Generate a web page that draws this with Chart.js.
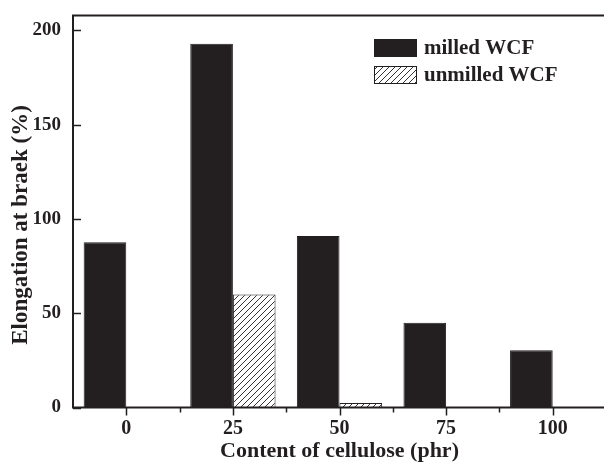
<!DOCTYPE html>
<html>
<head>
<meta charset="utf-8">
<script src="https://cdn.jsdelivr.net/npm/chart.js@4/dist/chart.umd.min.js"></script>
<style>
html,body{margin:0;padding:0;background:#fff;overflow:hidden;}
#wrap{width:610px;height:464px;}
</style>
</head>
<body>
<div id="wrap"><canvas id="c" width="610" height="464"></canvas></div>
<script>
const categories = ['0', '25', '50', '75', '100'];
const milledWCF = [87.7, 193, 91, 45, 30.4];
const unmilledWCF = [0, 60, 2.4, 0, 0];
const yTickValues = [0, 50, 100, 150, 200];
const seriesNames = ['milled WCF', 'unmilled WCF'];
const xTitle = 'Content of cellulose (phr)';
const yTitle = 'Elongation at braek (%)';

const INK = '#231f20';
const FONT = 'Liberation Serif';

function hatchPattern() {
  const s = 6;
  const cv = document.createElement('canvas');
  cv.width = s; cv.height = s;
  const g = cv.getContext('2d');
  g.fillStyle = '#fff';
  g.fillRect(0, 0, s, s);
  g.strokeStyle = '#333';
  g.lineWidth = 1;
  g.beginPath();
  g.moveTo(0, s); g.lineTo(s, 0);
  g.moveTo(-1, 1); g.lineTo(1, -1);
  g.moveTo(s - 1, s + 1); g.lineTo(s + 1, s - 1);
  g.stroke();
  return g.createPattern(cv, 'repeat');
}
const hatch = hatchPattern();

const decor = {
  id: 'decor',
  afterDraw(chart) {
    const ctx = chart.ctx;
    const a = chart.chartArea;
    const xs = chart.scales.x, ys = chart.scales.y;
    ctx.save();
    ctx.strokeStyle = INK;
    // frame
    ctx.lineWidth = 2;
    ctx.beginPath();
    ctx.moveTo(a.left, a.top); ctx.lineTo(a.right, a.top);
    ctx.lineTo(a.right, a.bottom); ctx.lineTo(a.left, a.bottom); ctx.closePath();
    ctx.stroke();
    // y ticks inward
    ctx.lineWidth = 1.5;
    yTickValues.forEach(v => {
      const py = Math.round(ys.getPixelForValue(v)) + 0.5;
      ctx.beginPath(); ctx.moveTo(a.left, py); ctx.lineTo(a.left + 8, py); ctx.stroke();
    });
    // x ticks outward (major at centers, minor at boundaries)
    const step = xs.getPixelForValue(1) - xs.getPixelForValue(0);
    categories.forEach((c, i) => {
      const px = Math.round(xs.getPixelForValue(i)) + 0.5;
      ctx.beginPath(); ctx.moveTo(px, a.bottom); ctx.lineTo(px, a.bottom + 8); ctx.stroke();
      const mx = Math.round(xs.getPixelForValue(i) + step / 2) + 0.5;
      ctx.beginPath(); ctx.moveTo(mx, a.bottom); ctx.lineTo(mx, a.bottom + 5); ctx.stroke();
    });
    // y axis title
    ctx.save();
    ctx.translate(21, 225);
    ctx.rotate(-Math.PI / 2);
    ctx.fillStyle = INK;
    ctx.font = 'bold 23px "' + FONT + '"';
    ctx.textAlign = 'center';
    ctx.textBaseline = 'middle';
    ctx.fillText(yTitle, 0, 0);
    ctx.restore();
    // legend
    const lx = 374, ly = [39, 66], bw = 43, bh = 18;
    chart.data.datasets.forEach((ds, i) => {
      ctx.fillStyle = ds.backgroundColor;
      ctx.fillRect(lx, ly[i], bw, bh);
      ctx.lineWidth = 1;
      ctx.strokeStyle = INK;
      ctx.strokeRect(lx + 0.5, ly[i] + 0.5, bw - 1, bh - 1);
      ctx.fillStyle = INK;
      ctx.font = 'bold 21px "' + FONT + '"';
      ctx.textBaseline = 'middle';
      ctx.textAlign = 'left';
      ctx.fillText(ds.label, lx + bw + 7, ly[i] + bh / 2 + 1);
    });
    ctx.restore();
  }
};

new Chart(document.getElementById('c'), {
  type: 'bar',
  data: {
    labels: categories,
    datasets: [
      { label: seriesNames[0], data: milledWCF, backgroundColor: INK, borderColor: INK, borderWidth: 1,
        categoryPercentage: 0.8, barPercentage: 1.0 },
      { label: seriesNames[1], data: unmilledWCF, backgroundColor: hatch, borderColor: INK, borderWidth: 1,
        categoryPercentage: 0.8, barPercentage: 1.0 }
    ]
  },
  options: {
    responsive: false,
    animation: false,
    layout: { padding: { left: 0, top: 13, right: 4, bottom: 0 } },
    plugins: { legend: { display: false }, tooltip: { enabled: false } },
    scales: {
      x: {
        offset: true,
        grid: { display: false },
        border: { display: false },
        ticks: { color: INK, font: { family: FONT, size: 20, weight: 'bold' }, padding: 1, maxRotation: 0 },
        title: { display: true, text: xTitle, color: INK, font: { family: FONT, size: 22, weight: 'bold' }, padding: { top: 0, bottom: -1 } },
        afterFit(s) { s.height = 56.5; }
      },
      y: {
        min: 0, max: 208,
        grid: { display: false },
        border: { display: false },
        afterBuildTicks(s) { s.ticks = yTickValues.map(v => ({ value: v })); },
        ticks: { color: INK, font: { family: FONT, size: 19, weight: 'bold' }, padding: 4 },
        title: { display: false },
        afterFit(s) { s.width = 73; }
      }
    }
  },
  plugins: [decor]
});
</script>
</body>
</html>
